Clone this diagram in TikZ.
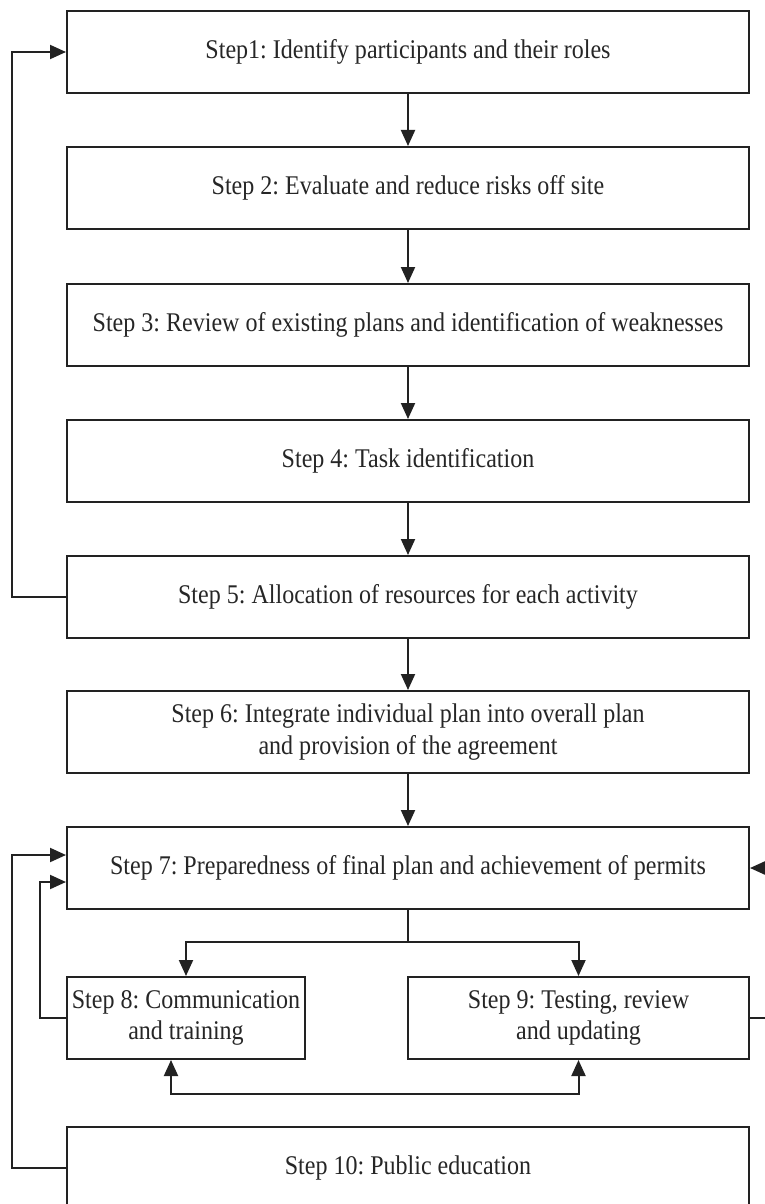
\documentclass[tikz,border=0pt]{standalone}
\usepackage{fontspec}
\setmainfont{Liberation Serif}[FakeStretch=0.89]
\usetikzlibrary{arrows.meta}
\definecolor{ln}{HTML}{222222}
\definecolor{tx}{HTML}{262626}
\frenchspacing
\begin{document}
\begin{tikzpicture}[x=1pt,y=-1pt,
  stepbox/.style={draw=ln, line width=2pt, minimum width=682pt, minimum height=82pt,
    inner sep=0pt, align=center, text=tx, font=\fontsize{27}{31.5}\selectfont},
  arr/.style={draw=ln, line width=2pt, -{Triangle[length=16pt,width=14pt]}},
  biarr/.style={draw=ln, line width=2pt, {Triangle[length=16pt,width=14pt]}-{Triangle[length=16pt,width=14pt]}},
  plain/.style={draw=ln, line width=2pt}]
\useasboundingbox (0,0) rectangle (764,1204);
\fill[white] (0,0) rectangle (764,1204);
\node[stepbox] (s1) at (408,52) {Step1: Identify participants and their roles};
\node[stepbox] (s2) at (408,188) {Step 2: Evaluate and reduce risks off site};
\node[stepbox] (s3) at (408,325) {Step 3: Review of existing plans and identification of weaknesses};
\node[stepbox] (s4) at (408,461) {Step 4: Task identification};
\node[stepbox] (s5) at (408,597) {Step 5: Allocation of resources for each activity};
\node[stepbox] (s6) at (408,732) {Step 6: Integrate individual plan into overall plan\\and provision of the agreement};
\node[stepbox] (s7) at (408,868) {Step 7: Preparedness of final plan and achievement of permits};
\node[stepbox, minimum width=238pt] (s8) at (186,1018) {Step 8: Communication\\and training};
\node[stepbox, minimum width=341pt] (s9) at (578.5,1018) {Step 9: Testing, review\\and updating};
\node[stepbox] (s10) at (408,1168) {Step 10: Public education};
% main chain
\draw[arr] (s1.south) -- (s2.north);
\draw[arr] (s2.south) -- (s3.north);
\draw[arr] (s3.south) -- (s4.north);
\draw[arr] (s4.south) -- (s5.north);
\draw[arr] (s5.south) -- (s6.north);
\draw[arr] (s6.south) -- (s7.north);
% branch to 8 and 9
\coordinate (br) at (408,942);
\draw[plain] (s7.south) -- (br);
\draw[arr] (br) -| (s8.north);
\draw[arr] (br) -| (s9.north);
% between 8 and 9
\draw[biarr] ([xshift=-15pt]s8.south) -- ++(0,34) -| (s9.south);
% feedback loops
\draw[arr] (s5.west) -- ++(-54,0) |- (s1.west);
\draw[arr] (s10.west) -- ++(-54,0) |- ([yshift=13pt]s7.west);
\draw[arr] (s8.west) -- ++(-26,0) |- ([yshift=-14pt]s7.west);
\draw[arr] (s9.east) -- ++(26,0) |- (s7.east);
\end{tikzpicture}
\end{document}
